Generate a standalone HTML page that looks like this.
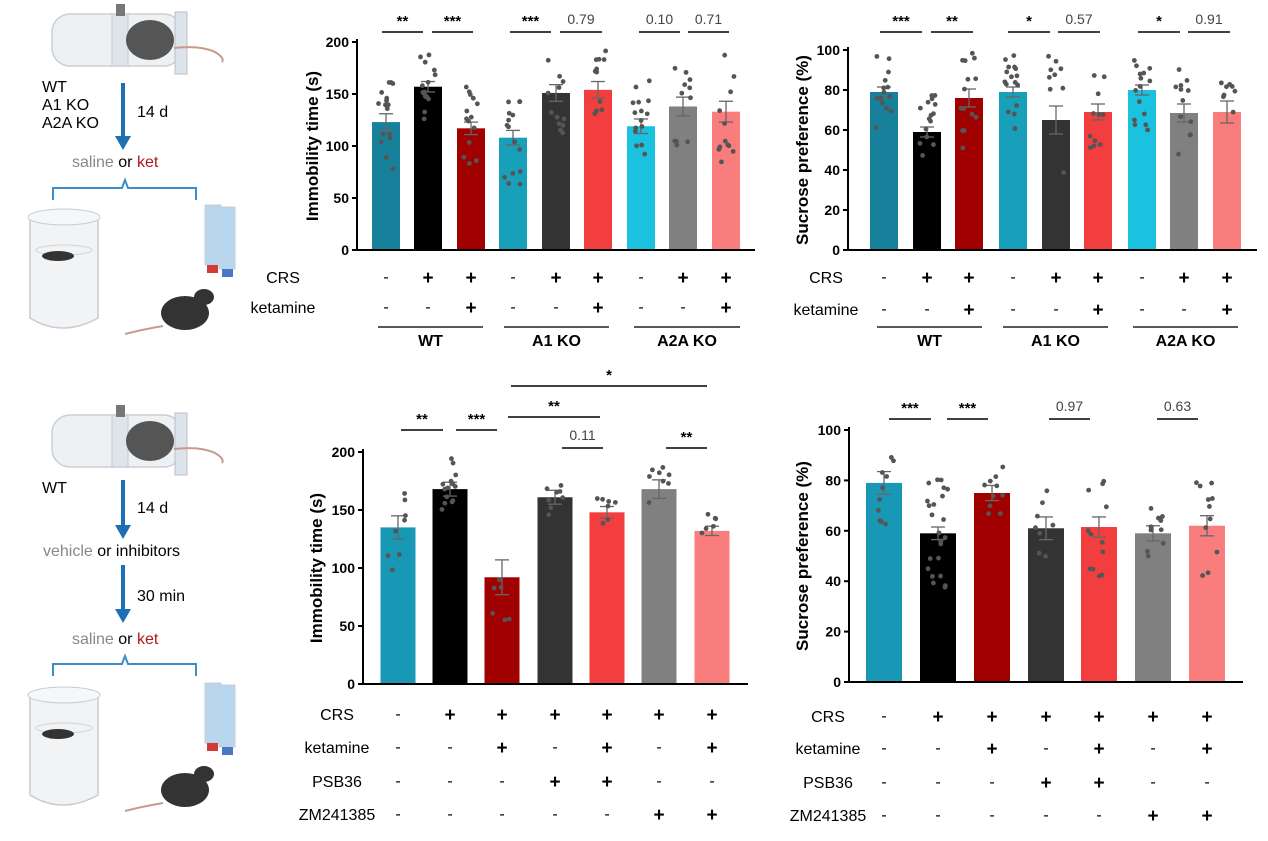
<!DOCTYPE html>
<html><head><meta charset="utf-8"><style>
html,body{margin:0;padding:0;background:#fff;}
svg{display:block;font-family:"Liberation Sans",Arial,sans-serif;}
</style></head><body>
<svg id="s" width="1268" height="841" viewBox="0 0 1268 841" xmlns="http://www.w3.org/2000/svg">
<!-- left illustrations -->
<g id="ill">
 <!-- top tube -->
 <rect x="52" y="14" width="130" height="52" rx="18" fill="#eef1f4" stroke="#c9cfd6" stroke-width="1.5"/>
 <rect x="112" y="14" width="16" height="52" fill="#dfe4ea" stroke="#c4cad2"/>
 <rect x="116" y="4" width="9" height="12" fill="#777"/>
 <rect x="175" y="12" width="12" height="62" fill="#dde3ea" stroke="#b9c0c9"/>
 <ellipse cx="150" cy="40" rx="24" ry="20" fill="#555"/>
 <path d="M174 48 Q200 45 215 52 Q225 58 222 62" stroke="#c89a8c" stroke-width="2" fill="none"/>
 <text x="42" y="92" font-size="16">WT</text>
 <text x="42" y="110" font-size="16">A1 KO</text>
 <text x="42" y="128" font-size="16">A2A KO</text>
 <line x1="123" y1="83" x2="123" y2="140" stroke="#1f6fb5" stroke-width="4"/>
 <polygon points="115,136 131,136 123,150" fill="#1f6fb5"/>
 <text x="137" y="117" font-size="16">14 d</text>
 <text x="72" y="167" font-size="16"><tspan fill="#888">saline</tspan> or <tspan fill="#b01818">ket</tspan></text>
 <path d="M53 200 V188 H122 L125 180 L128 188 H196 V200" stroke="#3a8fc8" stroke-width="2" fill="none"/>
 <path d="M30 217 L30 318 Q62 338 98 318 L98 217" fill="#f1f3f5" stroke="#c6ccd3" stroke-width="1.5"/>
 <ellipse cx="64" cy="217" rx="36" ry="8" fill="#f6f7f8" stroke="#c6ccd3"/>
 <ellipse cx="64" cy="250" rx="28" ry="5" fill="none" stroke="#d0d5da"/>
 <ellipse cx="58" cy="256" rx="16" ry="5" fill="#333"/>
 <rect x="205" y="205" width="16" height="60" fill="#b9d6ef" stroke="#c7ced6"/>
 <rect x="219" y="207" width="16" height="62" fill="#b9d6ef" stroke="#c7ced6"/>
 <rect x="207" y="265" width="11" height="8" fill="#d23a3a"/>
 <rect x="222" y="269" width="11" height="8" fill="#4a78c9"/>
 <ellipse cx="185" cy="313" rx="24" ry="17" fill="#333"/>
 <ellipse cx="204" cy="297" rx="10" ry="8" fill="#333"/>
 <path d="M163 326 Q140 330 125 334" stroke="#c89a8c" stroke-width="2" fill="none"/>
 <!-- bottom -->
 <rect x="52" y="415" width="130" height="52" rx="18" fill="#eef1f4" stroke="#c9cfd6" stroke-width="1.5"/>
 <rect x="112" y="415" width="16" height="52" fill="#dfe4ea" stroke="#c4cad2"/>
 <rect x="116" y="405" width="9" height="12" fill="#777"/>
 <rect x="175" y="413" width="12" height="62" fill="#dde3ea" stroke="#b9c0c9"/>
 <ellipse cx="150" cy="441" rx="24" ry="20" fill="#555"/>
 <path d="M174 449 Q200 446 215 453 Q225 459 222 463" stroke="#c89a8c" stroke-width="2" fill="none"/>
 <text x="42" y="493" font-size="16">WT</text>
 <line x1="123" y1="480" x2="123" y2="528" stroke="#1f6fb5" stroke-width="4"/>
 <polygon points="115,525 131,525 123,539" fill="#1f6fb5"/>
 <text x="137" y="513" font-size="16">14 d</text>
 <text x="43" y="556" font-size="16"><tspan fill="#888">vehicle</tspan> or inhibitors</text>
 <line x1="123" y1="565" x2="123" y2="612" stroke="#1f6fb5" stroke-width="4"/>
 <polygon points="115,609 131,609 123,623" fill="#1f6fb5"/>
 <text x="137" y="601" font-size="16">30 min</text>
 <text x="72" y="644" font-size="16"><tspan fill="#888">saline</tspan> or <tspan fill="#b01818">ket</tspan></text>
 <path d="M53 676 V664 H122 L125 656 L128 664 H196 V676" stroke="#3a8fc8" stroke-width="2" fill="none"/>
 <path d="M30 695 L30 795 Q62 815 98 795 L98 695" fill="#f1f3f5" stroke="#c6ccd3" stroke-width="1.5"/>
 <ellipse cx="64" cy="695" rx="36" ry="8" fill="#f6f7f8" stroke="#c6ccd3"/>
 <ellipse cx="64" cy="728" rx="28" ry="5" fill="none" stroke="#d0d5da"/>
 <ellipse cx="58" cy="734" rx="16" ry="5" fill="#333"/>
 <rect x="205" y="683" width="16" height="60" fill="#b9d6ef" stroke="#c7ced6"/>
 <rect x="219" y="685" width="16" height="62" fill="#b9d6ef" stroke="#c7ced6"/>
 <rect x="207" y="743" width="11" height="8" fill="#d23a3a"/>
 <rect x="222" y="747" width="11" height="8" fill="#4a78c9"/>
 <ellipse cx="185" cy="790" rx="24" ry="17" fill="#333"/>
 <ellipse cx="204" cy="774" rx="10" ry="8" fill="#333"/>
 <path d="M163 803 Q140 807 125 811" stroke="#c89a8c" stroke-width="2" fill="none"/>
</g>
</svg>
<script>
var S=document.getElementById('s'),NS='http://www.w3.org/2000/svg',out='';
var seed=7;function rnd(){seed=(seed*16807)%2147483647;return seed/2147483647;}
function T(x,y,t,o){o=o||{};out+='<text x="'+x+'" y="'+y+'" font-size="'+(o.fs||16)+'" text-anchor="'+(o.a||'middle')+'"'+(o.b?' font-weight="bold"':'')+(o.fill?' fill="'+o.fill+'"':'')+(o.tr?' transform="'+o.tr+'"':'')+'>'+t+'</text>';}
function L(x1,y1,x2,y2,w,c){out+='<line x1="'+x1+'" y1="'+y1+'" x2="'+x2+'" y2="'+y2+'" stroke="'+(c||'#000')+'" stroke-width="'+(w||1.5)+'"/>';}
function chart(c){
 var sc=(c.y0-c.ytop)/c.max;
 c.xs.forEach(function(x,i){
  var v=c.vals[i],top=c.y0-v*sc,hw=c.bw/2;
  out+='<rect x="'+(x-hw)+'" y="'+top+'" width="'+c.bw+'" height="'+(c.y0-top)+'" fill="'+c.cols[i]+'"/>';
  var se=c.se[i]*sc;
  L(x,top-se,x,top+se,1.3,'#666');L(x-7,top-se,x+7,top-se,1.3,'#666');L(x-7,top+se,x+7,top+se,1.3,'#666');
  var n=c.n[i];
  for(var k=0;k<n;k++){var d=(rnd()-0.5)*2*c.spread[i];var dv=v+d;if(dv<c.min0)dv=c.min0+rnd()*5;
   var dx=(rnd()-0.5)*hw*1.2;out+='<circle cx="'+(x+dx)+'" cy="'+(c.y0-dv*sc)+'" r="2.4" fill="#555"/>';}
 });
 L(c.ax,c.ytop-3,c.ax,c.y0,2);L(c.ax,c.y0,c.xend,c.y0,2);
 c.ticks.forEach(function(t){var y=c.y0-t*sc;L(c.ax-5,y,c.ax,y,2);T(c.ax-8,y+5,t,{fs:14,b:1,a:'end'});});
 T(0,0,c.ylab,{fs:17,b:1,tr:'translate('+c.ylx+','+((c.ytop+c.y0)/2)+') rotate(-90)'});
 c.sig.forEach(function(s){L(s[0],s[2],s[1],s[2],1.5);var star=s[3].indexOf('*')>=0;
  T((s[0]+s[1])/2,s[2]-(star?6:8),s[3],{fs:star?15:14,b:star,fill:star?'#000':'#444'});});
 c.rows.forEach(function(r){T(c.lx,r[0]+5,r[1],{fs:16,a:r[3]||'middle'});
  r[2].forEach(function(s,i){T(c.xs[i],r[0]+(s=='+'?6:4),s=='+'?'+':'-',{fs:s=='+'?19:16,b:s=='+'});});});
 (c.groups||[]).forEach(function(g){L(g[0],c.gy,g[1],c.gy,1.5,'#222');T((g[0]+g[1])/2,c.gy+19,g[2],{fs:16,b:1});});
}
var C9=['#17809a','#000','#a00000','#18a0ba','#333','#f23e3e','#1ac2e0','#808080','#fa7d7d'];
chart({xs:[386,428,471,513,556,598,641,683,726],bw:28,y0:250,ytop:42,max:200,ax:357,xend:755,min0:60,
 vals:[123,157,117,108,151,154,119,138,133],se:[8,5,6,7,8,8,7,9,10],n:[16,15,14,15,12,11,15,11,12],
 spread:[45,35,40,45,40,38,45,40,55],cols:C9,ticks:[0,50,100,150,200],ylab:'Immobility time (s)',ylx:318,
 sig:[[382,423,32,'**'],[432,473,32,'***'],[510,551,32,'***'],[560,602,32,'0.79'],[639,680,32,'0.10'],[688,729,32,'0.71']],
 rows:[[278,'CRS',['-','+','+','-','+','+','-','+','+']],[308,'ketamine',['-','-','+','-','-','+','-','-','+']]],lx:283,
 gy:327,groups:[[378,483,'WT'],[504,609,'A1 KO'],[634,740,'A2A KO']]});
chart({xs:[884,927,969,1013,1056,1098,1142,1184,1227],bw:28,y0:250,ytop:50,max:100,ax:848,xend:1257,min0:20,
 vals:[79,59,76,79,65,69,80,68.5,69],se:[2.5,2.5,4.5,2.5,7,4,2.5,4.5,5.5],n:[14,15,14,16,9,11,15,12,8],
 spread:[18,20,25,20,35,20,20,22,20],cols:C9,ticks:[0,20,40,60,80,100],ylab:'Sucrose preference (%)',ylx:808,
 sig:[[880,922,32,'***'],[931,973,32,'**'],[1008,1050,32,'*'],[1058,1100,32,'0.57'],[1138,1180,32,'*'],[1188,1230,32,'0.91']],
 rows:[[278,'CRS',['-','+','+','-','+','+','-','+','+']],[310,'ketamine',['-','-','+','-','-','+','-','-','+']]],lx:826,
 gy:327,groups:[[877,982,'WT'],[1003,1108,'A1 KO'],[1133,1238,'A2A KO']]});
var C7=['#1898b5','#000','#a00000','#333','#f23e3e','#808080','#fa7d7d'];
chart({xs:[398,450,502,555,607,659,712],bw:35,y0:684,ytop:452,max:200,ax:363,xend:748,min0:45,
 vals:[135,168,92,161,148,168,132],se:[10,6,15,6,5,8,4],n:[8,14,6,8,7,8,6],
 spread:[40,30,45,20,12,30,15],cols:C7,ticks:[0,50,100,150,200],ylab:'Immobility time (s)',ylx:322,
 sig:[[401,443,430,'**'],[456,497,430,'***'],[508,600,417,'**'],[511,707,386,'*'],[562,603,448,'0.11'],[666,707,448,'**']],
 rows:[[715,'CRS',['-','+','+','+','+','+','+']],[748,'ketamine',['-','-','+','-','+','-','+']],[782,'PSB36',['-','-','-','+','+','-','-']],[815,'ZM241385',['-','-','-','-','-','+','+']]],lx:337});
chart({xs:[884,938,992,1046,1099,1153,1207],bw:36,y0:682,ytop:430,max:100,ax:849,xend:1243,min0:15,
 vals:[79,59,75,61,61.5,59,62],se:[4.5,2.5,3,4.5,4,3,4],n:[10,24,10,8,12,10,11],
 spread:[18,22,12,15,22,14,20],cols:C7,ticks:[0,20,40,60,80,100],ylab:'Sucrose preference (%)',ylx:808,
 sig:[[889,931,419,'***'],[947,988,419,'***'],[1049,1090,419,'0.97'],[1157,1198,419,'0.63']],
 rows:[[717,'CRS',['-','+','+','+','+','+','+']],[749,'ketamine',['-','-','+','-','+','-','+']],[783,'PSB36',['-','-','-','+','+','-','-']],[816,'ZM241385',['-','-','-','-','-','+','+']]],lx:828});
S.insertAdjacentHTML('beforeend',out);
</script>
</body></html>
